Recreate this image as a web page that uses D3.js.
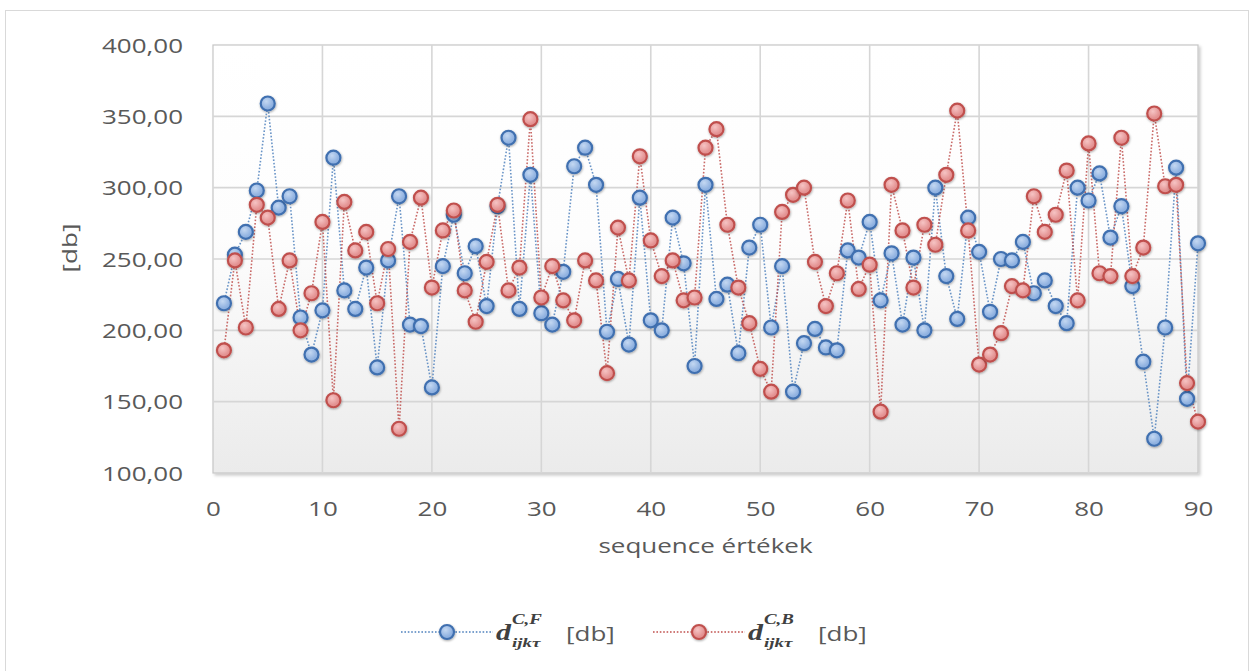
<!DOCTYPE html>
<html lang="hu">
  <head>
    <meta charset="UTF-8" />
    <title></title>
    <script src="https://d3js.org/d3.v7.min.js"></script>
    <style>
      body { margin: 0; background: #fff; }
      text { font-family: 'Open Sans', sans-serif; fill: #595959; }
      .math { font-family: 'Liberation Serif', serif; font-style: italic; font-weight: bold; fill: #404040; }
    </style>
  </head>
  <body>
    <svg id="chart" width="1251" height="671"></svg>
    <script>
      // sequence index (x) and the two series
      const sequence = [
        1, 2, 3, 4, 5, 6, 7, 8, 9, 10, 11, 12, 13, 14, 15, 16, 17, 18, 19, 20,
        21, 22, 23, 24, 25, 26, 27, 28, 29, 30, 31, 32, 33, 34, 35, 36, 37, 38, 39, 40,
        41, 42, 43, 44, 45, 46, 47, 48, 49, 50, 51, 52, 53, 54, 55, 56, 57, 58, 59, 60,
        61, 62, 63, 64, 65, 66, 67, 68, 69, 70, 71, 72, 73, 74, 75, 76, 77, 78, 79, 80,
        81, 82, 83, 84, 85, 86, 87, 88, 89, 90
      ]
      const dCF = [
        219, 253, 269, 298, 359, 286, 294, 209, 183, 214, 321, 228, 215, 244, 174, 249, 294, 204, 203, 160,
        245, 281, 240, 259, 217, 287, 335, 215, 309, 212, 204, 241, 315, 328, 302, 199, 236, 190, 293, 207,
        200, 279, 247, 175, 302, 222, 232, 184, 258, 274, 202, 245, 157, 191, 201, 188, 186, 256, 251, 276,
        221, 254, 204, 251, 200, 300, 238, 208, 279, 255, 213, 250, 249, 262, 226, 235, 217, 205, 300, 291,
        310, 265, 287, 231, 178, 124, 202, 314, 152, 261
      ]
      const dCB = [
        186, 249, 202, 288, 279, 215, 249, 200, 226, 276, 151, 290, 256, 269, 219, 257, 131, 262, 293, 230,
        270, 284, 228, 206, 248, 288, 228, 244, 348, 223, 245, 221, 207, 249, 235, 170, 272, 235, 322, 263,
        238, 249, 221, 223, 328, 341, 274, 230, 205, 173, 157, 283, 295, 300, 248, 217, 240, 291, 229, 246,
        143, 302, 270, 230, 274, 260, 309, 354, 270, 176, 183, 198, 231, 228, 294, 269, 281, 312, 221, 331,
        240, 238, 335, 238, 258, 352, 301, 302, 163, 136
      ]
      const xTicks = [0, 10, 20, 30, 40, 50, 60, 70, 80, 90]
      const yTicks = [100, 150, 200, 250, 300, 350, 400]

      const svg = d3.select('#chart')
      const plotL = 213, plotR = 1198, plotT = 45, plotB = 473
      const sx = 1.3 // the picture's text is stretched sideways

      const x = d3.scaleLinear().domain([0, 90]).range([plotL, plotR])
      const y = d3.scaleLinear().domain([100, 400]).range([plotB, plotT])
      const fmt = d3.formatLocale({ decimal: ',', thousands: ' ', grouping: [3], currency: ['', ''] }).format('.2f')

      const defs = svg.append('defs')
      const bg = defs.append('linearGradient').attr('id', 'plotbg').attr('x1', 0).attr('y1', 0).attr('x2', 0).attr('y2', 1)
      bg.append('stop').attr('offset', 0).attr('stop-color', '#ffffff')
      bg.append('stop').attr('offset', 0.45).attr('stop-color', '#fdfdfd')
      bg.append('stop').attr('offset', 1).attr('stop-color', '#ebebeb')

      const gradBlue = defs.append('radialGradient').attr('id', 'mBlue').attr('cx', 0.4).attr('cy', 0.35)
      gradBlue.append('stop').attr('offset', 0).attr('stop-color', '#c4d8f2')
      gradBlue.append('stop').attr('offset', 1).attr('stop-color', '#8fb1e0')
      const gradRed = defs.append('radialGradient').attr('id', 'mRed').attr('cx', 0.4).attr('cy', 0.35)
      gradRed.append('stop').attr('offset', 0).attr('stop-color', '#f6c4c4')
      gradRed.append('stop').attr('offset', 1).attr('stop-color', '#e39191')

      const shadow = defs.append('filter').attr('id', 'shadow').attr('x', '-50%').attr('y', '-50%').attr('width', '200%').attr('height', '200%')
      shadow.append('feDropShadow').attr('dx', 0.5).attr('dy', 1).attr('stdDeviation', 1.3).attr('flood-color', '#000').attr('flood-opacity', 0.35)
      const boxShadow = defs.append('filter').attr('id', 'boxshadow').attr('x', '-5%').attr('y', '-5%').attr('width', '110%').attr('height', '110%')
      boxShadow.append('feDropShadow').attr('dx', 2).attr('dy', 2).attr('stdDeviation', 1.5).attr('flood-color', '#000').attr('flood-opacity', 0.2)

      // chart border
      svg.append('rect')
        .attr('x', 5.5).attr('y', 10.5).attr('width', 1243).attr('height', 670)
        .attr('fill', '#fff').attr('stroke', '#d9d9d9')

      // plot area
      svg.append('rect')
        .attr('x', plotL).attr('y', plotT).attr('width', plotR - plotL).attr('height', plotB - plotT)
        .attr('fill', 'url(#plotbg)').attr('stroke', '#c6c6c6').attr('stroke-width', 1.2)
        .attr('filter', 'url(#boxshadow)')

      // gridlines
      svg.append('g').selectAll('line')
        .data(yTicks.slice(1, -1))
        .join('line')
        .attr('x1', plotL).attr('x2', plotR)
        .attr('y1', d => y(d)).attr('y2', d => y(d))
        .attr('stroke', '#d6d6d6').attr('stroke-width', 1.6)
      svg.append('g').selectAll('line')
        .data(xTicks.slice(1, -1))
        .join('line')
        .attr('x1', d => x(d)).attr('x2', d => x(d))
        .attr('y1', plotT).attr('y2', plotB)
        .attr('stroke', '#d6d6d6').attr('stroke-width', 1.6)

      // axes (labels only, like the source)
      const yAxis = svg.append('g')
        .attr('transform', `translate(${plotL},0)`)
        .call(d3.axisLeft(y).tickValues(yTicks).tickFormat(fmt).tickSize(0).tickPadding(0))
      yAxis.select('.domain').remove()
      yAxis.selectAll('text')
        .attr('x', null).attr('dy', null)
        .attr('transform', `translate(-30,7) scale(${sx},1)`)
        .style('font-size', '20px').attr('fill', '#595959')

      const xAxis = svg.append('g')
        .attr('transform', `translate(0,${plotB})`)
        .call(d3.axisBottom(x).tickValues(xTicks).tickSize(0).tickPadding(0))
      xAxis.select('.domain').remove()
      xAxis.selectAll('text')
        .attr('y', null).attr('dy', null)
        .attr('transform', `translate(0,43) scale(${sx},1)`)
        .style('font-size', '20px').attr('fill', '#595959')

      svg.append('text')
        .attr('transform', `translate(${(plotL + plotR) / 2},553) scale(${sx},1)`)
        .attr('text-anchor', 'middle').style('font-size', '20px')
        .text('sequence értékek')

      svg.append('text')
        .attr('transform', `translate(77,248) rotate(-90) scale(${sx},1)`)
        .attr('text-anchor', 'middle').style('font-size', '20px')
        .text('[db]')

      // series
      const series = [
        { name: 'F', values: dCF, line: '#4f81bd', stroke: '#3f6fb0', fill: 'url(#mBlue)' },
        { name: 'B', values: dCB, line: '#c0504d', stroke: '#c0504d', fill: 'url(#mRed)' }
      ]
      const line = d3.line().x((d, i) => x(sequence[i])).y(d => y(d))

      series.forEach(s => {
        svg.append('path')
          .attr('d', line(s.values))
          .attr('fill', 'none')
          .attr('stroke', s.line).attr('stroke-width', 1.6)
          .attr('stroke-dasharray', '1.6,1.8').attr('opacity', 0.85)
      })
      series.forEach(s => {
        svg.append('g').selectAll('circle')
          .data(s.values)
          .join('circle')
          .attr('cx', (d, i) => x(sequence[i]))
          .attr('cy', d => y(d))
          .attr('r', 7)
          .attr('fill', s.fill)
          .attr('stroke', s.stroke).attr('stroke-width', 2.2)
          .attr('filter', 'url(#shadow)')
      })

      // legend
      const legend = svg.append('g')
      const entries = [
        { s: series[0], x0: 401, sup: 'C,F' },
        { s: series[1], x0: 653, sup: 'C,B' }
      ]
      entries.forEach(e => {
        const ly = 632
        legend.append('line')
          .attr('x1', e.x0).attr('x2', e.x0 + 92).attr('y1', ly).attr('y2', ly)
          .attr('stroke', e.s.line).attr('stroke-width', 1.6).attr('stroke-dasharray', '1.6,1.8')
        legend.append('circle')
          .attr('cx', e.x0 + 46).attr('cy', ly).attr('r', 7)
          .attr('fill', e.s.fill).attr('stroke', e.s.stroke).attr('stroke-width', 2.2)
          .attr('filter', 'url(#shadow)')
        const tx = e.x0 + 95
        legend.append('text').attr('class', 'math')
          .attr('transform', `translate(${tx},640) scale(1.25,1)`)
          .style('font-size', '24px').text('d')
        legend.append('text').attr('class', 'math')
          .attr('transform', `translate(${tx + 16},624) scale(1.35,1)`)
          .style('font-size', '14px').text(e.sup)
        legend.append('text').attr('class', 'math')
          .attr('transform', `translate(${tx + 16},647) scale(1.45,1)`)
          .style('font-size', '13px').text('ijkτ')
        legend.append('text')
          .attr('transform', `translate(${tx + 70},641) scale(${sx},1)`)
          .style('font-size', '20px').text('[db]')
      })
    </script>
  </body>
</html>
